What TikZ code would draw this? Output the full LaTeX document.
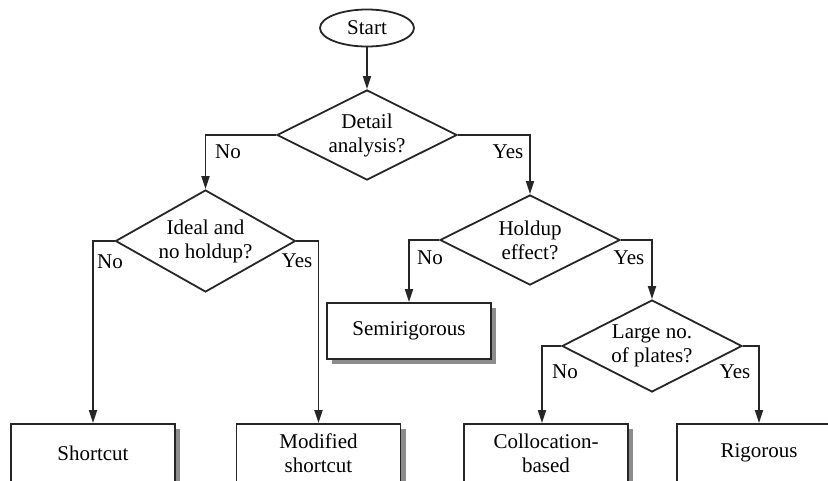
\documentclass[tikz,border=0pt]{standalone}
\usepackage{fontspec}
\setmainfont{Liberation Serif}
\usetikzlibrary{shapes.geometric,shadows,arrows.meta}
\begin{document}
\begin{tikzpicture}[x=1pt,y=-1pt,
  every node/.style={font=\fontsize{21}{24}\selectfont},
  ln/.style={line width=1.8pt, draw=black!85},
  arr/.style={ln, -{Triangle[length=13pt,width=8pt]}},
  dec/.style={diamond, ln, inner sep=0pt, minimum width=180pt, minimum height=90pt},
  outcome/.style={rectangle, ln, fill=white, align=center, minimum width=164pt, minimum height=58pt,
     drop shadow={shadow xshift=5pt, shadow yshift=-5pt, fill=black!45, opacity=1}},
  lbl/.style={inner sep=0pt}
]
\useasboundingbox (0,0) rectangle (828,480);
\clip (0,0) rectangle (828,480);

\node[ellipse, ln, minimum width=94pt, minimum height=37pt, inner sep=0pt] (start) at (367,28) {Start};

\node[dec, label={[align=center]center:Detail\\analysis?}] (d1) at (367,135) {};
\node[dec, minimum height=102pt, label={[align=center]center:Ideal and\\no holdup?}] (d2) at (205.5,241) {};
\node[dec, label={[align=center]center:Holdup\\effect?}] (d3) at (530,240) {};
\node[dec, minimum height=92pt, label={[align=center]center:Large no.\\of plates?}] (d4) at (652,346) {};

\node[outcome] (short) at (93,453) {Shortcut};
\node[outcome] (mod) at (318.5,453) {Modified\\shortcut};
\node[outcome, minimum height=56pt] (semi) at (409,331) {Semirigorous};
\node[outcome] (coll) at (546,453) {Collocation-\\based};
\node[outcome] (rig) at (759,453) {Rigorous};

\draw[arr] (start) -- (d1);
\draw[arr] (d1.west) -| (d2.north);
\draw[arr] (d1.east) -| (d3.north);
\draw[arr] (d2.west) -| (short.north);
\draw[arr] (d2.east) -| (mod.north);
\draw[arr] (d3.west) -| (semi.north);
\draw[arr] (d3.east) -| (d4.north);
\draw[arr] (d4.west) -| ([xshift=-4pt]coll.north);
\draw[arr] (d4.east) -| (rig.north);

\node[lbl] (n1) at (228,152) {No};
\node[lbl] (y1) at (508,152) {Yes};
\node[lbl] (n2) at (110,262) {No};
\node[lbl] (y2) at (297,261) {Yes};
\node[lbl] (n3) at (430,258) {No};
\node[lbl] (y3) at (629,258) {Yes};
\node[lbl] (n4) at (565,372) {No};
\node[lbl] (y4) at (735,372) {Yes};
\end{tikzpicture}
\end{document}
